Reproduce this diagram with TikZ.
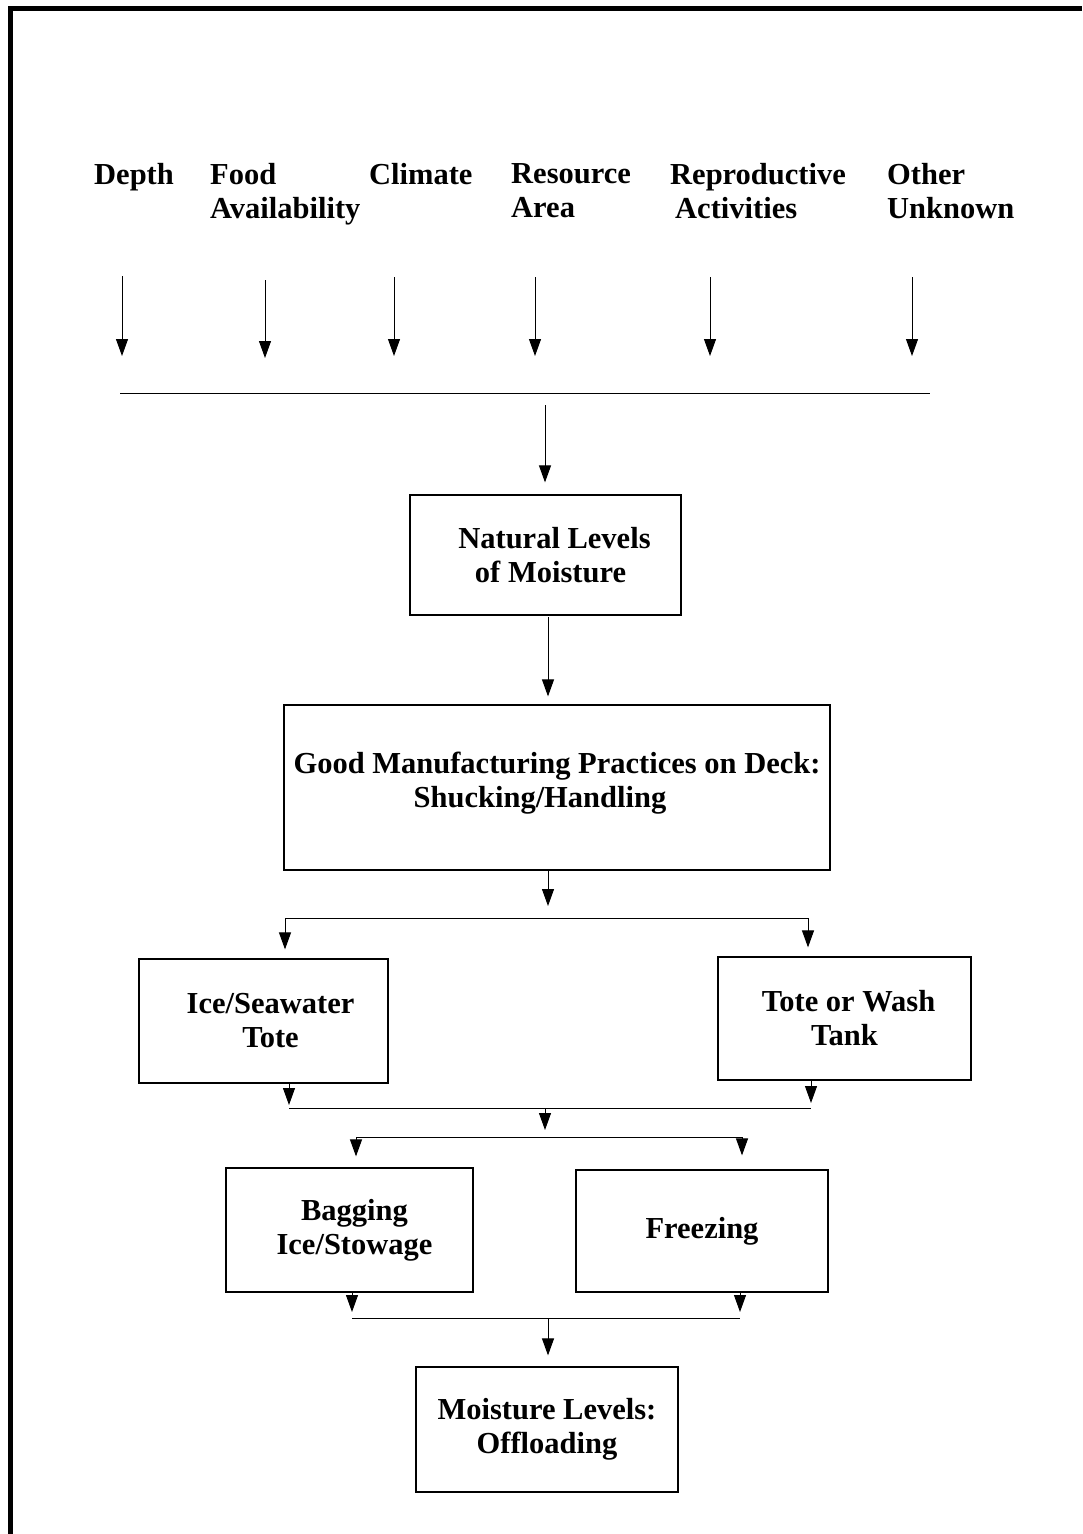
\documentclass[tikz,border=0pt]{standalone}
\usepackage{fontspec}
\setmainfont{Liberation Serif}
\usetikzlibrary{arrows.meta, positioning, calc}

\begin{document}
\begin{tikzpicture}[x=1pt, y=-1pt, >={Triangle[width=12pt,length=17pt]},
  every node/.style={font=\fontsize{30.5}{34}\selectfont\bfseries},
  factor/.style={anchor=north west, align=left, inner sep=0pt},
  stagebox/.style={draw, line width=1.2pt, align=center, inner sep=4pt},
  flow/.style={->, line width=1pt},
  barline/.style={line width=1pt}]
  \useasboundingbox (0,0) rectangle (1082,1534);

  % page frame (left and top edge only)
  \draw[line width=5pt] (10,1534) -- (10,8) -- (1082,8);

  % influencing factors
  \node[factor] (depth)   at (94,163)  {Depth};
  \node[factor] (food)    at (210,163) {Food\\Availability};
  \node[factor] (climate) at (369,163) {Climate};
  \node[factor] (area)    at (511,163) {Resource\\Area};
  \node[factor] (repro)   at (670,163) {Reproductive\\\hspace*{5pt}Activities};
  \node[factor] (other)   at (887,163) {Other\\Unknown};

  % arrows from the factors
  \foreach \nm/\x/\ya/\yb in {depth/122/276/356, food/265/280/358, climate/394/277/356,
                              area/535/277/356, repro/710/277/356, other/912/277/356} {
    \coordinate (\nm-top) at (\x,\ya);
    \coordinate (\nm-tip) at (\x,\yb);
    \draw[flow] (\nm-top) -- (\nm-tip);
  }

  % collecting bar
  \coordinate (barL) at (120,393);
  \coordinate (barR) at (930,393);
  \draw[barline] (barL) -- (barR);
  \coordinate (barOut) at (545,405);

  % stages
  \node[stagebox, minimum width=271pt, minimum height=120pt] (natural) at (545.5,555)
    {\hspace*{18pt}Natural Levels\\\hspace*{10pt}of Moisture};
  \node[stagebox, minimum width=546pt, minimum height=165pt] (gmp) at (557,787.5)
    {Good Manufacturing Practices on Deck:\\\hspace*{-34pt}Shucking/Handling\\[-18pt]\mbox{}};
  \node[stagebox, minimum width=249pt, minimum height=124pt] (ice) at (263.5,1021)
    {\hspace*{14pt}Ice/Seawater\\\hspace*{14pt}Tote};
  \node[stagebox, minimum width=253pt, minimum height=123pt] (tote) at (844.5,1018.5)
    {\hspace*{8pt}Tote or Wash\\Tank};
  \node[stagebox, minimum width=247pt, minimum height=124pt] (bag) at (349.5,1230)
    {\hspace*{10pt}Bagging\\\hspace*{10pt}Ice/Stowage};
  \node[stagebox, minimum width=252pt, minimum height=122pt] (freeze) at (702,1231)
    {Freezing};
  \node[stagebox, minimum width=262pt, minimum height=125pt] (offload) at (547,1429.5)
    {Moisture Levels:\\Offloading};

  % main line
  \coordinate (natOut) at (548,617);
  \draw[flow, shorten >=12pt] (barOut) -- (barOut |- natural.north);
  \draw[flow, shorten >=8pt] (natOut) -- (natOut |- gmp.north);

  % first split
  \coordinate (split1) at (548,918);
  \coordinate (split1L) at (285,918);
  \coordinate (split1R) at (808,918);
  \draw[flow, shorten >=12pt] (gmp.south -| split1) -- (split1);
  \draw[barline] (split1L) -- (split1R);
  \draw[flow, shorten >=9pt] (split1L) -- (split1L |- ice.north);
  \draw[flow, shorten >=9pt] (split1R) -- (split1R |- tote.north);

  % first merge
  \coordinate (merge1L) at (289,1108);
  \coordinate (merge1R) at (811,1108);
  \coordinate (merge1) at (545,1108);
  \draw[flow, shorten >=3pt] (ice.south -| merge1L) -- (merge1L);
  \draw[flow, shorten >=5pt] (tote.south -| merge1R) -- (merge1R);
  \draw[barline] (merge1L) -- (merge1R);

  % second split
  \coordinate (split2) at (545,1137);
  \coordinate (split2L) at (356,1137);
  \coordinate (split2R) at (742,1137);
  \draw[flow, shorten >=7pt] (merge1) -- (split2);
  \draw[barline] (split2L) -- (split2R);
  \draw[flow, shorten >=11pt] (split2L) -- (split2L |- bag.north);
  \draw[flow, shorten >=14pt] (split2R) -- (split2R |- freeze.north);

  % second merge
  \coordinate (merge2L) at (352,1318);
  \coordinate (merge2R) at (740,1318);
  \coordinate (merge2) at (548,1318);
  \draw[flow, shorten >=6pt] (bag.south -| merge2L) -- (merge2L);
  \draw[flow, shorten >=6pt] (freeze.south -| merge2R) -- (merge2R);
  \draw[barline] (merge2L) -- (merge2R);
  \draw[flow, shorten >=11pt] (merge2) -- (merge2 |- offload.north);
\end{tikzpicture}
\end{document}
